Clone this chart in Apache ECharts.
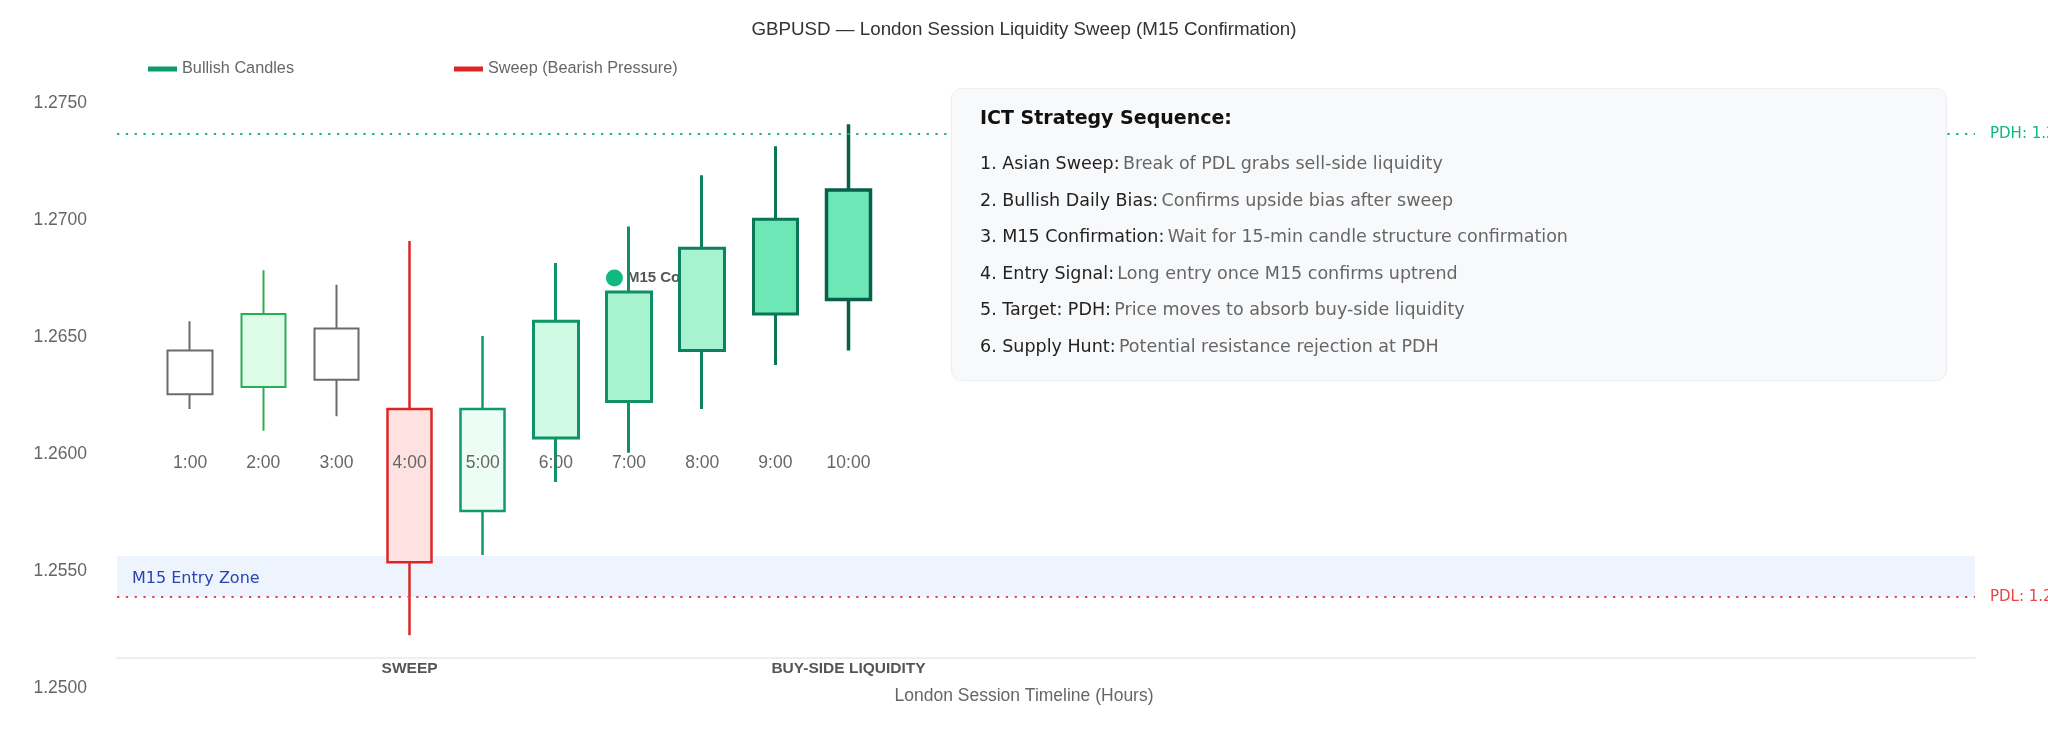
<!DOCTYPE html>
<html>
<head>
<meta charset="utf-8">
<script src="https://cdn.jsdelivr.net/npm/echarts@6/dist/echarts.min.js"></script>
<style>
html, body { margin: 0; padding: 0; background: #fff; }
#chart { width: 2048px; height: 731px; }
</style>
</head>
<body>
<div id="chart"></div>
<script>
// data
var hours = ['1:00', '2:00', '3:00', '4:00', '5:00', '6:00', '7:00', '8:00', '9:00', '10:00'];
var opens  = [1.26255, 1.26286, 1.26317, 1.26192, 1.25756, 1.26068, 1.26224, 1.26442, 1.26598, 1.26660];
var closes = [1.26442, 1.26598, 1.26536, 1.25537, 1.26192, 1.26567, 1.26692, 1.26879, 1.27003, 1.27128];
var lows   = [1.26192, 1.26099, 1.26161, 1.25225, 1.25568, 1.25880, 1.26005, 1.26192, 1.26380, 1.26442];
var highs  = [1.26567, 1.26785, 1.26723, 1.26910, 1.26504, 1.26816, 1.26972, 1.27191, 1.27315, 1.27409];
var sweepIndex = 3;
var bottomTags = {3: 'SWEEP', 9: 'BUY-SIDE LIQUIDITY'};
var pdh = 1.27368;
var pdl = 1.25389;
var entryZone = [1.25389, 1.25564];
var confirmPoint = [5.8, 1.26752];

var steps = ['1. Asian Sweep:', '2. Bullish Daily Bias:', '3. M15 Confirmation:', '4. Entry Signal:', '5. Target: PDH:', '6. Supply Hunt:'];
var stepText = ['Break of PDL grabs sell-side liquidity', 'Confirms upside bias after sweep',
  'Wait for 15-min candle structure confirmation', 'Long entry once M15 confirms uptrend',
  'Price moves to absorb buy-side liquidity', 'Potential resistance rejection at PDH'];

// candle looks (fill, border, width)
var candleLook = [
  ['#ffffff', '#6b6b6b', 2],
  ['#dcfce7', '#2aae55', 2],
  ['#ffffff', '#6b6b6b', 2],
  ['#fee2e2', '#dc2626', 2.5],
  ['#ecfdf5', '#0f9a6a', 2.5],
  ['#d1fae5', '#0f9467', 3],
  ['#a7f3d0', '#0f9066', 3],
  ['#a7f3d0', '#0d8160', 3],
  ['#6ee7b7', '#0a7653', 3],
  ['#6ee7b7', '#08604a', 3.5]
];

function candle(i) {
  var l = candleLook[i];
  return {
    value: [i, opens[i], closes[i], lows[i], highs[i]],
    itemStyle: { color: l[0], color0: l[0], borderColor: l[1], borderColor0: l[1], borderWidth: l[2] }
  };
}
var bullData = [], sweepData = [];
for (var i = 0; i < hours.length; i++) {
  if (i === sweepIndex) sweepData.push(candle(i)); else bullData.push(candle(i));
}

var chart = echarts.init(document.getElementById('chart'));
var font = 'Liberation Sans, Arial, sans-serif';
var font2 = 'DejaVu Sans, sans-serif';

var boxText = [{
  type: 'text', left: 980, top: 110,
  style: { text: 'ICT Strategy Sequence:', font: 'bold 19px ' + font2, fill: '#111' }
}];
for (var k = 0; k < steps.length; k++) {
  boxText.push({
    type: 'text', left: 980, top: 155.5 + k * 36.6,
    style: {
      text: '{a|' + steps[k] + '} {b|' + stepText[k] + '}',
      rich: {
        a: { fontSize: 17.5, fontFamily: font2, fill: '#222', color: '#222' },
        b: { fontSize: 17.5, fontFamily: font2, fill: '#666', color: '#666' }
      }
    }
  });
}

chart.setOption({
  backgroundColor: '#fff',
  animation: false,
  title: {
    text: 'GBPUSD \u2014 London Session Liquidity Sweep (M15 Confirmation)',
    left: 'center', top: 15.5,
    textStyle: { fontSize: 18.75, fontWeight: 'normal', color: '#333', fontFamily: font }
  },
  legend: {
    left: 143, top: 56, icon: 'rect', itemWidth: 29, itemHeight: 5, itemGap: 160,
    textStyle: { fontSize: 16.25, color: '#666', fontFamily: font },
    itemStyle: { borderWidth: 0 },
    data: [
      { name: 'Bullish Candles', itemStyle: { color: '#0f9a6a' } },
      { name: 'Sweep (Bearish Pressure)', itemStyle: { color: '#dc2626' } }
    ]
  },
  grid: { left: 117, right: 73, top: 103, bottom: 43 },
  xAxis: [{
    type: 'value', position: 'bottom', min: -1, max: 24.4, interval: 1, offset: -242, z: 10,
    axisLine: { show: false }, axisTick: { show: false }, splitLine: { show: false },
    axisLabel: {
      margin: 8, fontSize: 17.5, color: '#666', fontFamily: font,
      formatter: function (v) { return hours[v] || ''; }
    }
  }, {
    type: 'value', position: 'bottom', min: -1, max: 24.4, interval: 1, offset: -30,
    axisLine: { show: true, lineStyle: { color: '#eeeeee', width: 2 } },
    axisTick: { show: false }, splitLine: { show: false },
    axisLabel: {
      margin: 3, fontSize: 15.5, fontWeight: 'bold', color: '#555', fontFamily: font,
      formatter: function (v) { return bottomTags[v] || ''; }
    },
    name: 'London Session Timeline (Hours)', nameLocation: 'middle', nameGap: 29,
    nameTextStyle: { fontSize: 17.5, color: '#666', fontFamily: font, padding: [0, 44, 0, 0] }
  }],
  yAxis: {
    type: 'value', min: 1.25, max: 1.275, interval: 0.005,
    axisLine: { show: false }, axisTick: { show: false }, splitLine: { show: false },
    axisLabel: {
      margin: 30, fontSize: 17.5, color: '#666', fontFamily: font,
      formatter: function (v) { return v.toFixed(4); }
    }
  },
  graphic: [{
    type: 'rect', left: 951, top: 88, z: 10,
    shape: { width: 995, height: 292, r: 10 },
    style: { fill: '#f8f9fb', stroke: '#eceef2', lineWidth: 1 }
  }].concat(boxText.map(function (t) { t.z = 11; return t; })),
  series: [{
    name: 'M15 Confirmation', type: 'scatter', z: 1,
    symbolSize: 17, itemStyle: { color: '#10b981', opacity: 1 },
    label: {
      show: true, position: 'right', distance: 4, formatter: 'M15 Confirm',
      fontSize: 15, fontWeight: 'bold', color: '#555', fontFamily: font
    },
    data: [confirmPoint]
  }, {
    name: 'Bullish Candles', type: 'candlestick', z: 3, barWidth: 45,
    encode: { x: 0, y: [1, 2, 3, 4] },
    data: bullData,
    markArea: {
      silent: true,
      itemStyle: { color: '#edf4fe' },
      label: { show: true, position: 'insideTopLeft', distance: 15, color: '#2a44b0', fontSize: 16, fontFamily: font2 },
      data: [[{ yAxis: entryZone[0], name: 'M15 Entry Zone' }, { yAxis: entryZone[1] }]]
    },
    markLine: {
      silent: true, symbol: ['none', 'none'], precision: 6,
      data: [
        { yAxis: pdh, lineStyle: { color: '#10b981', width: 2, type: [2.3, 6.5] },
          label: { formatter: 'PDH: ' + pdh.toFixed(4), color: '#10b981' } },
        { yAxis: pdl, lineStyle: { color: '#ef4444', width: 2, type: [2.3, 6.5] },
          label: { formatter: 'PDL: ' + pdl.toFixed(4), color: '#ef4444' } }
      ],
      label: { position: 'end', distance: 15, fontSize: 15, fontFamily: font2 }
    }
  }, {
    name: 'Sweep (Bearish Pressure)', type: 'candlestick', z: 3, barWidth: 45,
    encode: { x: 0, y: [1, 2, 3, 4] },
    data: sweepData
  }]
});
</script>
</body>
</html>
